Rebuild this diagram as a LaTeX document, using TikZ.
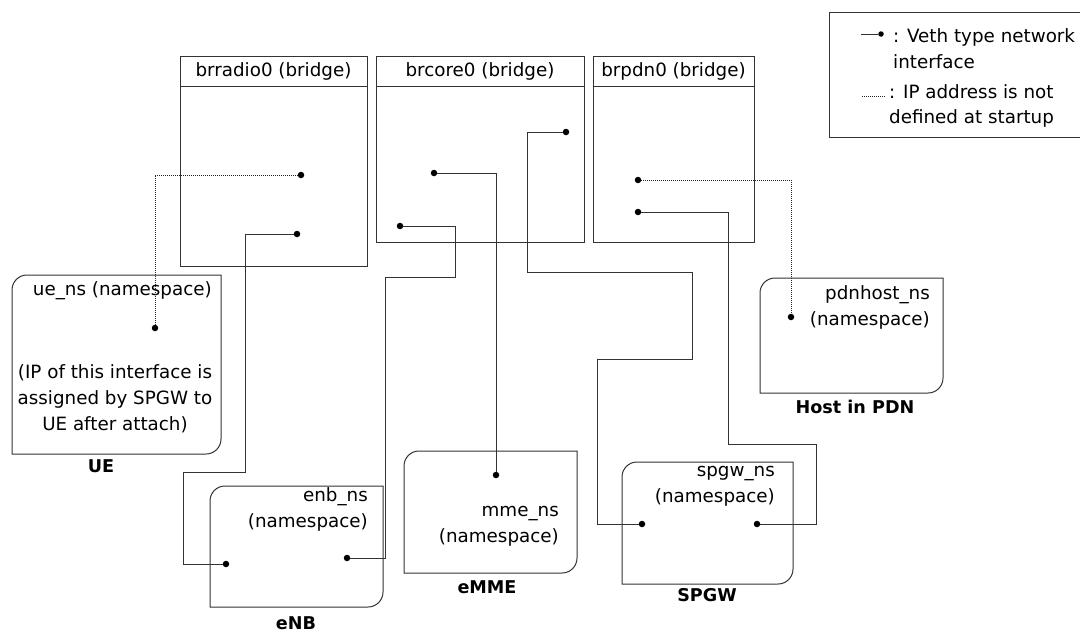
\documentclass[tikz,border=0pt]{standalone}
\usepackage{fontspec}
\setmainfont{DejaVu Sans}
\usetikzlibrary{calc}

% frame of a namespace: rounded top-left and bottom-right corners only
\newcommand{\nsframe}[1]{%
  \draw[frame] (#1.north east) -- ([xshift=15pt]#1.north west)
    .. controls ([xshift=6.7pt]#1.north west) and ([yshift=-6.7pt]#1.north west) .. ([yshift=-15pt]#1.north west)
    -- (#1.south west) -- ([xshift=-15pt]#1.south east)
    .. controls ([xshift=-6.7pt]#1.south east) and ([yshift=6.7pt]#1.south east) .. ([yshift=15pt]#1.south east)
    -- cycle;}

\begin{document}
\begin{tikzpicture}[x=1pt,y=-1pt,
  frame/.style={draw=black!80, line width=1pt},
  wire/.style={draw=black!80, line width=1pt},
  ipwire/.style={draw=black!85, line width=1pt, dash pattern=on 1pt off 1pt},
  bridgebox/.style={frame, rectangle, outer sep=0pt, inner sep=0pt},
  nsarea/.style={rectangle, outer sep=0pt, inner sep=0pt},
  dot/.style={circle, fill=black, inner sep=0pt, minimum size=6.5pt},
  txt/.style={inner sep=0pt, font=\fontsize{18.3}{25.8}\selectfont},
  caption/.style={inner sep=0pt, font=\fontsize{17.6}{22}\selectfont\bfseries},
]
\useasboundingbox (0,0) rectangle (1080,632);

% ---- bridges ----
\node[bridgebox, minimum width=187pt, minimum height=210pt] (brradio) at (273.5,161) {};
\draw[frame] ([yshift=-30pt]brradio.north west) -- ([yshift=-30pt]brradio.north east);
\node[txt] (brradiot) at ([yshift=-15pt]brradio.north) {brradio0 (bridge)};

\node[bridgebox, minimum width=208pt, minimum height=186pt] (brcore) at (480,149) {};
\draw[frame] ([yshift=-30pt]brcore.north west) -- ([yshift=-30pt]brcore.north east);
\node[txt] (brcoret) at ([yshift=-15pt]brcore.north) {brcore0 (bridge)};

\node[bridgebox, minimum width=161pt, minimum height=186pt] (brpdn) at (673.5,149) {};
\draw[frame] ([yshift=-30pt]brpdn.north west) -- ([yshift=-30pt]brpdn.north east);
\node[txt] (brpdnt) at ([yshift=-15pt]brpdn.north) {brpdn0 (bridge)};

% ---- namespaces ----
\node[nsarea, minimum width=209pt, minimum height=179pt] (ue) at (116.5,364.5) {};
\nsframe{ue}
\node[txt, anchor=east] (uet) at (212,291) {ue\_ns (namespace)};
\node[txt, align=center] (uenote) at (115,399) {(IP of this interface is\\assigned by SPGW to\\UE after attach)};
\node[caption] (uecap) at (101,466) {UE};

\node[nsarea, minimum width=173pt, minimum height=121pt] (enb) at (296.5,546.5) {};
\nsframe{enb}
\node[txt, anchor=east, align=right] (enbt) at (368,509.5) {enb\_ns\\(namespace)};
\node[caption] (enbcap) at (296,623.5) {eNB};

\node[nsarea, minimum width=173pt, minimum height=122pt] (mme) at (490.5,512) {};
\nsframe{mme}
\node[txt, anchor=east, align=right] (mmet) at (559,526) {mme\_ns\\(namespace)};
\node[caption] (mmecap) at (487,587) {eMME};

\node[nsarea, minimum width=171pt, minimum height=122pt] (spgw) at (707.5,523) {};
\nsframe{spgw}
\node[txt, anchor=east, align=right] (spgwt) at (775,486.5) {spgw\_ns\\(namespace)};
\node[caption] (spgwcap) at (707,595) {SPGW};

\node[nsarea, minimum width=183pt, minimum height=115pt] (pdn) at (851.5,335.5) {};
\nsframe{pdn}
\node[txt, anchor=east, align=right] (pdnt) at (930,307.5) {pdnhost\_ns\\(namespace)};
\node[caption] (pdncap) at (855,407) {Host in PDN};

% ---- interfaces ----
\node[dot] (r1) at (301,175) {};
\node[dot] (r2) at (297,234) {};
\node[dot] (c1) at (434,173) {};
\node[dot] (c2) at (400,226) {};
\node[dot] (c3) at (566,132) {};
\node[dot] (p1) at (638,180) {};
\node[dot] (p2) at (638,212) {};
\node[dot] (u1) at (155,328) {};
\node[dot] (e1) at (226,564) {};
\node[dot] (e2) at (347,558) {};
\node[dot] (m1) at (496,475) {};
\node[dot] (s1) at (642,524) {};
\node[dot] (s2) at (757,524) {};
\node[dot] (h1) at (791,317) {};

% ---- bend points of the veth pairs ----
\coordinate (k1) at (245,472);
\coordinate (k2) at (183,564);
\coordinate (k3) at (455,277);
\coordinate (k4) at (385,558);
\coordinate (k5) at (527,272);
\coordinate (k6) at (692,359);
\coordinate (k7) at (597,524);
\coordinate (k8) at (728,444);
\coordinate (k9) at (816,524);

% ---- veth pairs ----
\draw[ipwire] (r1) -| (u1);
\draw[wire] (r2) -| (k1) -| (k2) -- (e1);
\draw[wire] (c1) -| (m1);
\draw[wire] (c2) -| (k3) -| (k4) -- (e2);
\draw[wire] (c3) -| (k5) -| (k6) -| (k7) -- (s1);
\draw[ipwire] (p1) -| (h1);
\draw[wire] (p2) -| (k8) -| (k9) -- (s2);

% ---- legend ----
\draw[frame] (1082,12) -- (829,12) -- (829,137) -- (1082,137);
\coordinate (vethA) at (861,34);
\node[dot, minimum size=5.5pt] (vethB) at (881,34) {};
\draw[wire] (vethA) -- (vethB);
\node[txt, anchor=west, align=left] (vethtxt) at (893,49) {: Veth type network\\interface};
\coordinate (ipA) at (862,96);
\coordinate (ipB) at (886,96);
\draw[ipwire] (ipA) -- (ipB);
\node[txt, anchor=west, align=left] (iptxt) at (889,106) {: IP address is not\\defined at startup};
\end{tikzpicture}
\end{document}
